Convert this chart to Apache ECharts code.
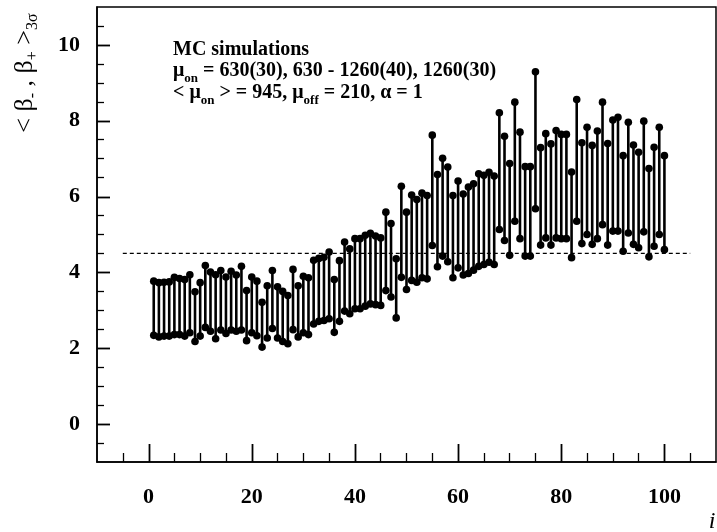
<!DOCTYPE html>
<html>
<head>
<meta charset="utf-8">
<script src="https://cdn.jsdelivr.net/npm/echarts@6/dist/echarts.min.js"></script>
<style>
  html, body { margin: 0; padding: 0; background: #fff; }
  #chart { width: 717px; height: 532px; }
</style>
</head>
<body>
<div id="chart"></div>
<script>
// upper limit <beta+> and lower limit <beta-> for each simulated run i = 1..100
const upper = [
  3.77, 3.73, 3.74, 3.75, 3.87, 3.84, 3.81, 3.94, 3.49, 3.73,
  4.18, 4.01, 3.94, 4.05, 3.88, 4.03, 3.93, 4.16, 3.52, 3.88,
  3.77, 3.21, 3.65, 4.05, 3.62, 3.50, 3.39, 4.08, 3.65, 3.90,
  3.86, 4.32, 4.37, 4.40, 4.54, 3.81, 4.31, 4.80, 4.62, 4.89,
  4.89, 4.98, 5.03, 4.96, 4.91, 5.59, 5.29, 4.36, 6.27, 5.59,
  6.04, 5.92, 6.09, 6.03, 7.62, 6.58, 7.01, 6.78, 6.03, 6.41,
  6.07, 6.25, 6.34, 6.60, 6.56, 6.64, 6.54, 8.21, 7.59, 6.87,
  8.49, 7.70, 6.79, 6.79, 9.29, 7.29, 7.66, 7.39, 7.74, 7.64,
  7.64, 6.65, 8.56, 7.42, 7.83, 7.35, 7.73, 8.49, 7.40, 8.02,
  8.09, 7.08, 7.96, 7.36, 7.17, 7.99, 6.74, 7.30, 7.83, 7.08
]
const lower = [
  2.34, 2.30, 2.32, 2.32, 2.36, 2.36, 2.32, 2.41, 2.18, 2.32,
  2.55, 2.45, 2.25, 2.48, 2.39, 2.48, 2.45, 2.48, 2.20, 2.41,
  2.33, 2.03, 2.27, 2.52, 2.27, 2.18, 2.12, 2.49, 2.30, 2.41,
  2.36, 2.64, 2.71, 2.73, 2.78, 2.42, 2.71, 2.98, 2.91, 3.04,
  3.04, 3.11, 3.17, 3.15, 3.13, 3.52, 3.35, 2.80, 3.87, 3.55,
  3.79, 3.74, 3.86, 3.83, 4.71, 4.15, 4.43, 4.28, 3.86, 4.12,
  3.93, 3.97, 4.06, 4.16, 4.21, 4.27, 4.21, 5.13, 4.84, 4.45,
  5.35, 4.89, 4.43, 4.43, 5.68, 4.72, 4.91, 4.72, 4.91, 4.89,
  4.89, 4.39, 5.35, 4.76, 5.00, 4.74, 4.89, 5.26, 4.72, 5.09,
  5.09, 4.56, 5.04, 4.74, 4.65, 5.07, 4.41, 4.69, 5.00, 4.60
]
const runIndex = upper.map((v, k) => k + 1)

// reference level (dashed)
const refLevel = 4.5
const refRange = [-5, 105]

// axis ranges and tick positions
const xRange = [-10, 110]
const yRange = [-1, 11]
const xMajor = [0, 20, 40, 60, 80, 100]
const xMinor = [-5, 5, 10, 15, 25, 30, 35, 45, 50, 55, 65, 70, 75, 85, 90, 95, 105]
const yMajor = [0, 2, 4, 6, 8, 10]
const yMinor = [-0.5, 0.5, 1, 1.5, 2.5, 3, 3.5, 4.5, 5, 5.5, 6.5, 7, 7.5, 8.5, 9, 9.5, 10.5]

const serif = '"Liberation Serif", "Times New Roman", serif'
const black = '#000'

const labelStyle = {
  color: black,
  fontFamily: serif,
  fontWeight: 'bold',
  fontSize: 22
}

// rich text pieces for the note
const noteMain = { fontFamily: serif, fontWeight: 'bold', fontSize: 20, lineHeight: 24, verticalAlign: 'top', color: black }
const noteSub = { fontFamily: serif, fontWeight: 'bold', fontSize: 13, lineHeight: 24, verticalAlign: 'top', padding: [11, 0, 0, 0], color: black }

// an extra axis that only draws the short inward ticks
const tickAxis = (pos, range, values, len) => ({
  type: 'value', min: range[0], max: range[1], position: pos,
  axisLine: { show: false, onZero: false },
  axisTick: { show: true, inside: true, length: len, customValues: values, lineStyle: { color: black, width: 1.3 } },
  axisLabel: { show: false },
  splitLine: { show: false }
})

const chart = echarts.init(document.getElementById('chart'), null, { renderer: 'canvas' })

const option = {
  animation: false,
  backgroundColor: '#fff',
  grid: {
    left: 97, right: 1, top: 7, bottom: 70,
    show: true, borderColor: black, borderWidth: 1.5
  },
  xAxis: [
    {
      type: 'value', min: xRange[0], max: xRange[1], position: 'bottom',
      axisLine: { show: true, onZero: false, lineStyle: { color: black, width: 1.5 } },
      axisTick: { show: false },
      axisLabel: Object.assign({ customValues: xMajor, margin: 24 }, labelStyle),
      splitLine: { show: false }
    },
    tickAxis('bottom', xRange, xMinor, 9)
  ],
  yAxis: [
    {
      type: 'value', min: yRange[0], max: yRange[1], position: 'left',
      axisLine: { show: true, onZero: false, lineStyle: { color: black, width: 1.5 } },
      axisTick: { show: false },
      axisLabel: Object.assign({ customValues: yMajor, margin: 17 }, labelStyle),
      splitLine: { show: false }
    },
    tickAxis('left', yRange, yMinor, 7)
  ],
  series: [
    {
      name: 'ref',
      type: 'line',
      xAxisIndex: 0, yAxisIndex: 0,
      data: [[refRange[0], refLevel], [refRange[1], refLevel]],
      symbol: 'none',
      lineStyle: { color: black, width: 1.3, type: [4, 3] },
      silent: true
    },
    {
      name: 'interval',
      type: 'custom',
      xAxisIndex: 0, yAxisIndex: 0,
      data: runIndex.map((x, k) => [x, lower[k], upper[k]]),
      renderItem: (params, api) => {
        const lo = api.coord([api.value(0), api.value(1)])
        const hi = api.coord([api.value(0), api.value(2)])
        return {
          type: 'group',
          children: [
            { type: 'line', shape: { x1: lo[0], y1: lo[1], x2: hi[0], y2: hi[1] }, style: { stroke: black, lineWidth: 2.6 } },
            { type: 'circle', shape: { cx: lo[0], cy: lo[1], r: 3.8 }, style: { fill: black } },
            { type: 'circle', shape: { cx: hi[0], cy: hi[1], r: 3.8 }, style: { fill: black } }
          ]
        }
      }
    }
  ]
}

chart.setOption(option)

// long major ticks, placed through the grid's own scales
const toPx = (pt) => chart.convertToPixel({ gridIndex: 0 }, pt)
const snap = (v) => Math.round(v) + 0.5
const tickLine = (a, b) => ({
  type: 'line', z: 10, silent: true,
  shape: { x1: a[0], y1: a[1], x2: b[0], y2: b[1] },
  style: { stroke: black, lineWidth: 1.8 }
})
const majorTickEls = [
  ...xMajor.map(v => { const p = toPx([v, yRange[0]]); const x = snap(p[0]); return tickLine([x, p[1]], [x, p[1] - 18]) }),
  ...yMajor.map(v => { const p = toPx([xRange[0], v]); const y = snap(p[1]); return tickLine([p[0], y], [p[0] + 13, y]) })
]

chart.setOption({
  graphic: [
    ...majorTickEls,
    // y axis title, reads bottom to top
    {
      type: 'text',
      x: 27, y: 73,
      rotation: Math.PI / 2,
      style: {
        text: '{m|< β}{s|-}{m| , β}{s|+}{m| >}{s|3σ}',
        align: 'center', verticalAlign: 'middle',
        rich: {
          m: { fontFamily: serif, fontSize: 26, lineHeight: 30, verticalAlign: 'top', color: black },
          s: { fontFamily: serif, fontSize: 16, lineHeight: 30, verticalAlign: 'top', padding: [13, 0, 0, 0], color: black }
        }
      }
    },
    // x axis title
    {
      type: 'text',
      x: 712, y: 522,
      style: {
        text: 'i', align: 'center', verticalAlign: 'middle',
        fontFamily: serif, fontStyle: 'italic', fontSize: 24, fill: black
      }
    },
    {
      type: 'text', x: 173, y: 40,
      style: { text: '{b|MC simulations}', rich: { b: noteMain } }
    },
    {
      type: 'text', x: 173, y: 61,
      style: {
        text: '{b|μ}{s|on}{b| = 630(30), 630 - 1260(40), 1260(30)}',
        rich: { b: noteMain, s: noteSub }
      }
    },
    {
      type: 'text', x: 173, y: 83,
      style: {
        text: '{b|< μ}{s|on}{b| > = 945, μ}{s|off}{b| = 210, α = 1}',
        rich: { b: noteMain, s: noteSub }
      }
    }
  ]
})
</script>
</body>
</html>
